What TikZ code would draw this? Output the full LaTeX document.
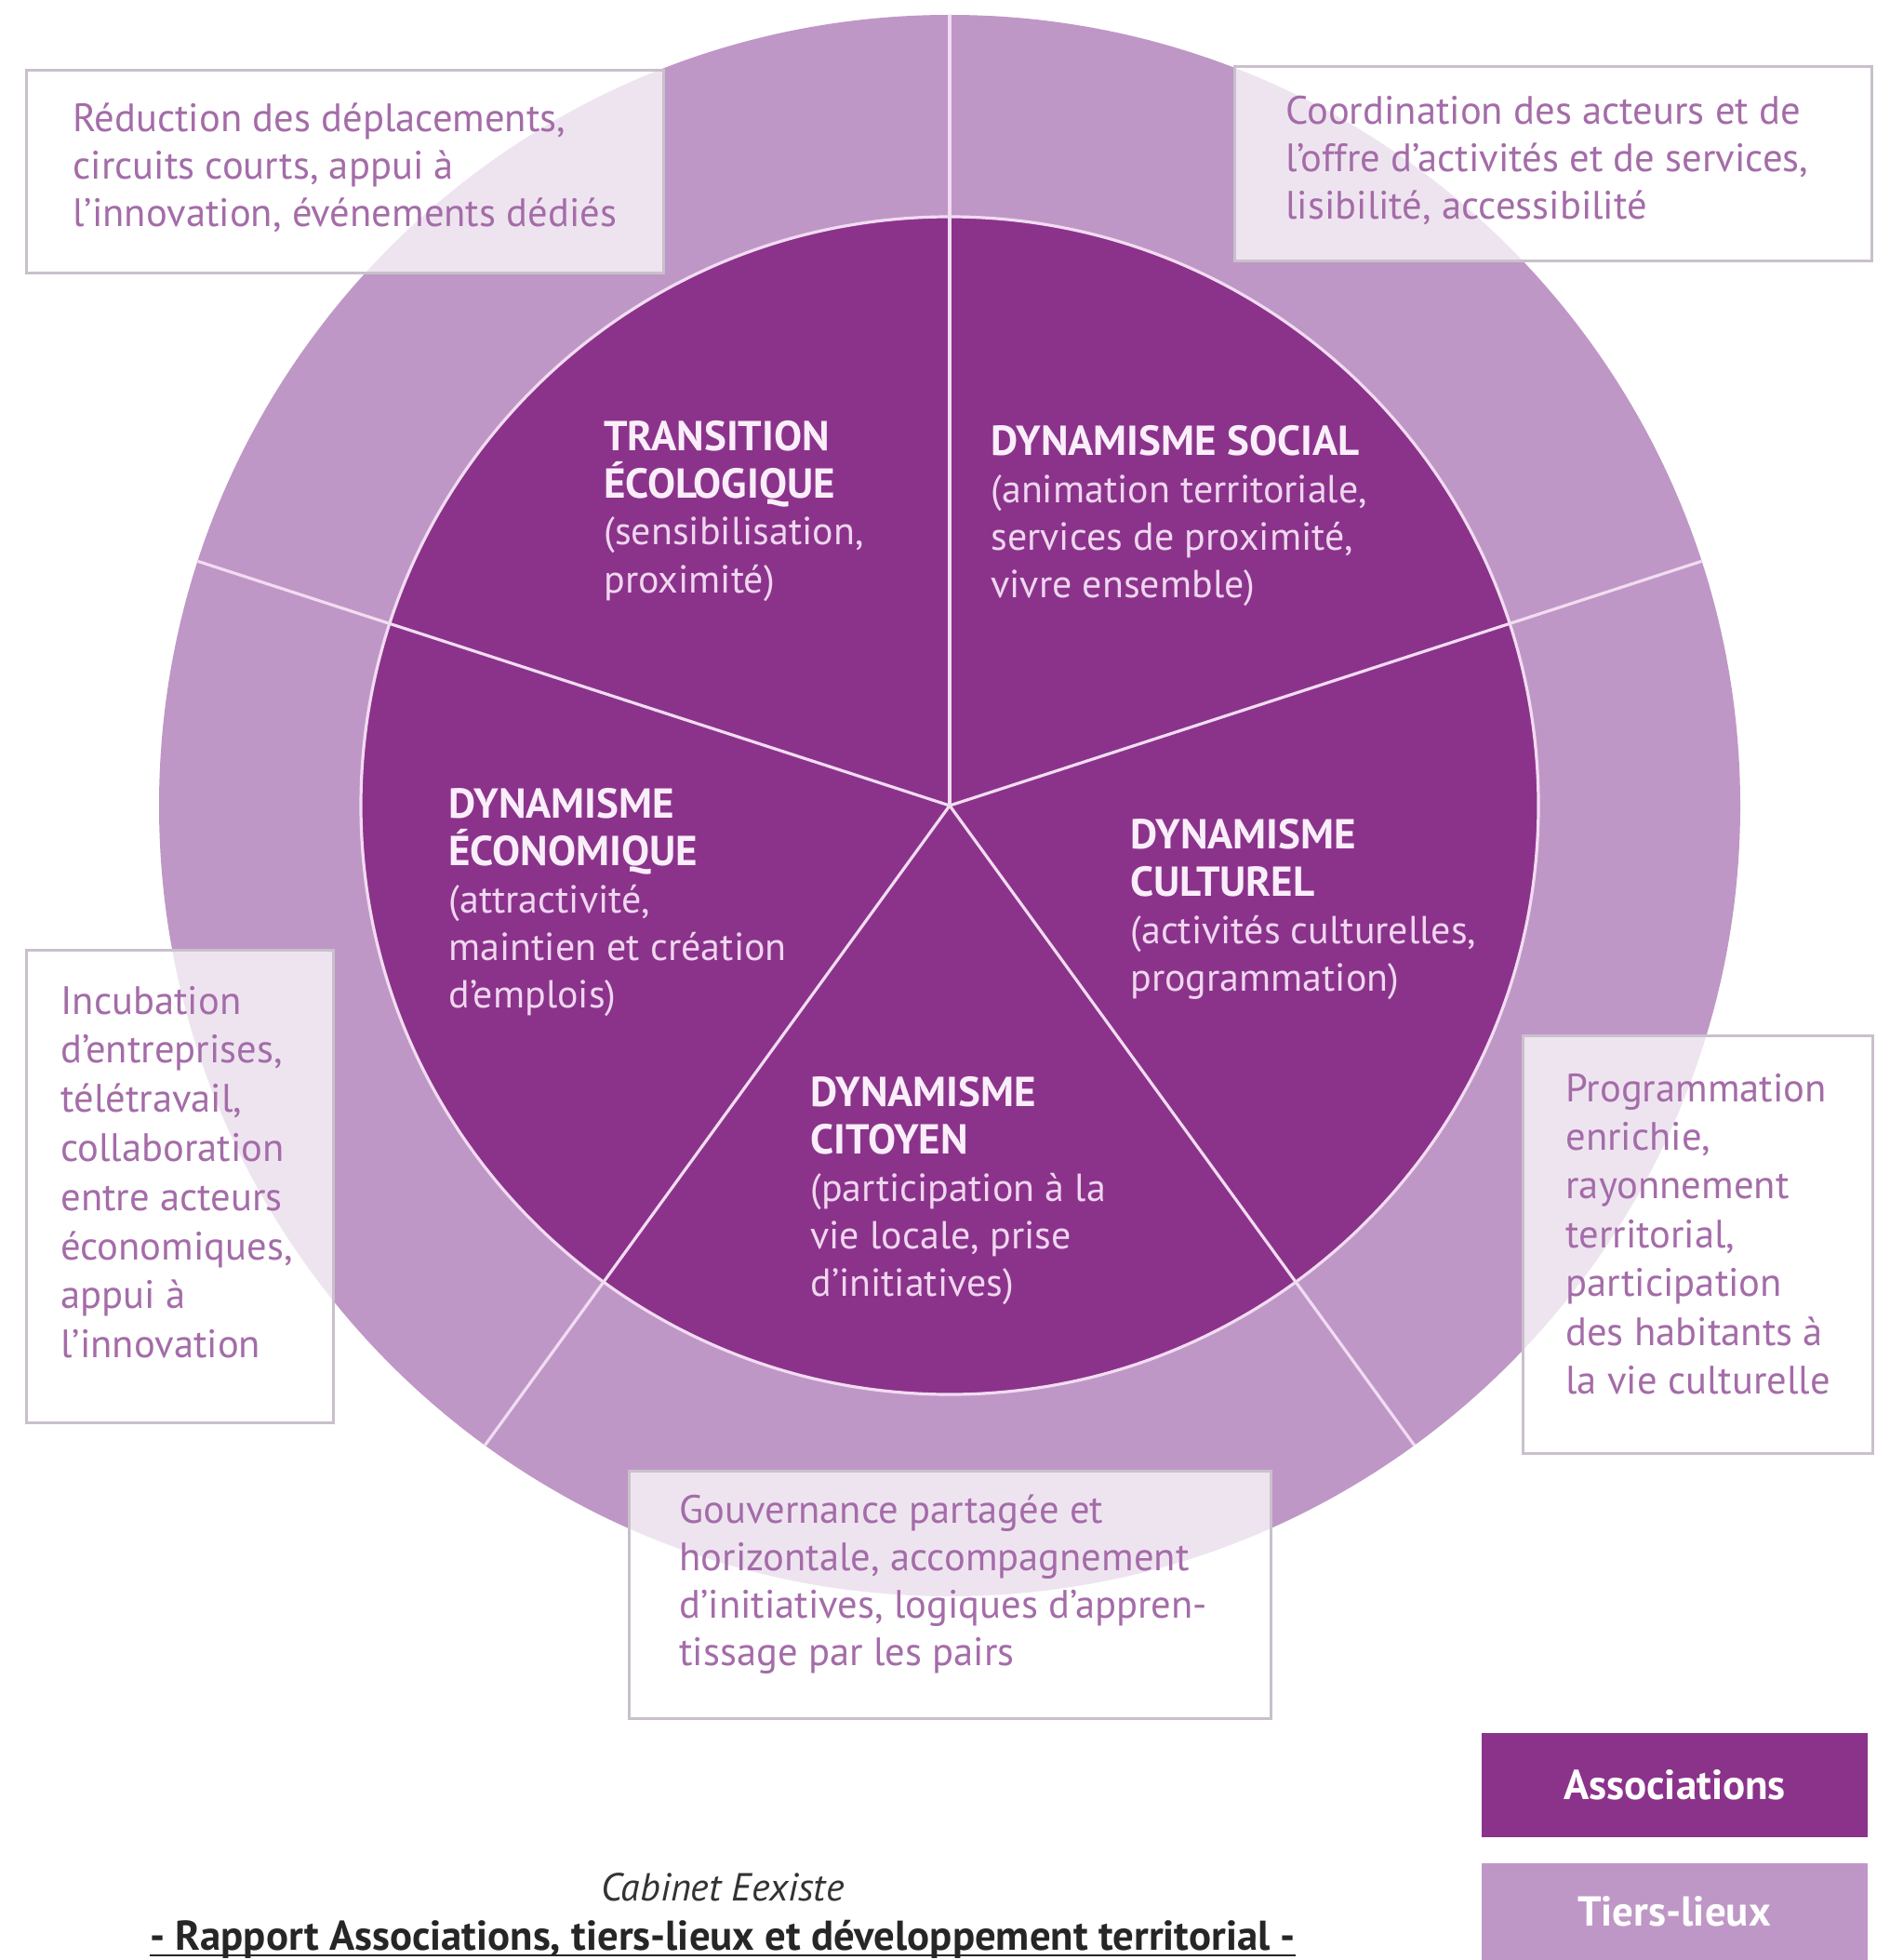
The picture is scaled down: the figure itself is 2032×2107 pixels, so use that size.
\documentclass[tikz,border=0pt]{standalone}
\usepackage{fontspec}
\setmainfont{PT Sans}
\usetikzlibrary{fit}
\definecolor{assoc}{HTML}{8B338B}
\definecolor{tiers}{HTML}{BF97C6}
\definecolor{boxtxt}{HTML}{A46CA8}
\definecolor{boxline}{HTML}{C9C0CC}
\definecolor{spoke}{HTML}{F2DCF2}
\definecolor{intitle}{HTML}{FAEEFA}
\definecolor{inbody}{HTML}{F0D6F0}
\newcommand\blk[1]{\begin{tabular}[t]{@{}l@{}}#1\end{tabular}}
\newcommand\ttl[1]{\smash{\fontsize{22.5}{25.5}\selectfont\bfseries\color{intitle}#1}}
\begin{document}
\begin{tikzpicture}[x=0.5pt,y=-0.5pt,
  tbox/.style={draw=boxline, line width=1.5pt, fill=white, fill opacity=0.75, inner sep=0pt},
  boxtext/.style={anchor=base west, inner sep=0pt, text=boxtxt, font=\fontsize{21.3}{25.5}\selectfont},
  intext/.style={anchor=base west, inner sep=0pt, text=inbody, font=\fontsize{21}{25.5}\selectfont},
  spokeline/.style={draw=spoke, line width=1.6pt},
  legend/.style={inner sep=0pt},
  legtext/.style={text=white, font=\bfseries\fontsize{22.5}{26}\selectfont}
]
\useasboundingbox (0,0) rectangle (2032,2107);
\fill[white] (0,0) rectangle (2032,2107);

% pie
\coordinate (c) at (1021,866);
\fill[tiers] (c) circle[radius=425pt];
\fill[assoc] (c) circle[radius=316.5pt];
\draw[spokeline] (c) circle[radius=316.5pt];
\foreach \a in {90,18,-54,-126,162} \draw[spokeline] (c) -- ++(\a:425pt);

% inner labels
\node[intext] (trans) at (649,484) {\blk{\ttl{TRANSITION}\\\ttl{ÉCOLOGIQUE}\\(sensibilisation,\\proximité)}};
\node[intext] (social) at (1065,489) {\blk{\ttl{DYNAMISME SOCIAL}\\(animation territoriale,\\services de proximité,\\vivre ensemble)}};
\node[intext] (eco) at (482,879) {\blk{\ttl{DYNAMISME}\\\ttl{ÉCONOMIQUE}\\(attractivité,\\maintien et création\\d’emplois)}};
\node[intext] (cult) at (1215,912) {\blk{\ttl{DYNAMISME}\\\ttl{CULTUREL}\\(activités culturelles,\\programmation)}};
\node[intext] (cit) at (871,1189) {\blk{\ttl{DYNAMISME}\\\ttl{CITOYEN}\\(participation à la\\vie locale, prise\\d’initiatives)}};

% outer boxes
\node[tbox, fit={(28,76)(713,294)}] (box1) {};
\node[boxtext] (t1) at (78,142) {\blk{Réduction des déplacements,\\circuits courts, appui à\\l’innovation, événements dédiés}};
\node[tbox, fit={(1327,72)(2012,281)}] (box2) {};
\node[boxtext] (t2) at (1382,134) {\blk{Coordination des acteurs et de\\l’offre d’activités et de services,\\lisibilité, accessibilité}};
\node[tbox, fit={(28,1021)(358,1529)}] (box3) {};
\node[boxtext, font=\fontsize{21.3}{26.4}\selectfont] (t3) at (65,1090) {\blk{Incubation\\d’entreprises,\\télétravail,\\collaboration\\entre acteurs\\économiques,\\appui à\\l’innovation}};
\node[tbox, fit={(1637,1113)(2013,1562)}] (box4) {};
\node[boxtext, font=\fontsize{21.3}{26.2}\selectfont] (t4) at (1683,1184) {\blk{Programmation\\enrichie,\\rayonnement\\territorial,\\participation\\des habitants à\\la vie culturelle}};
\node[tbox, fit={(676,1581)(1366,1847)}] (box5) {};
\node[boxtext] (t5) at (730,1637) {\blk{Gouvernance partagée et\\horizontale, accompagnement\\d’initiatives, logiques d’appren-\\tissage par les pairs}};

% legend
\node[legend, fill=assoc, fit={(1593,1863)(2008,1975)}] (lgA) {};
\node[legtext] (lgAt) at (lgA.center) {Associations};
\node[legend, fill=tiers, fit={(1593,2003)(2008,2107)}] (lgT) {};
\node[legtext, anchor=base] (lgTt) at (1800,2070) {Tiers-lieux};

% footer
\node[anchor=base, inner sep=0pt, text=black!80, font=\itshape\fontsize{21}{24}\selectfont] (cab) at (777,2043) {Cabinet Eexiste};
\node[anchor=base, inner sep=0pt, text=black!85, font=\bfseries\fontsize{22.4}{24}\selectfont] (rap) at (777,2096) {- Rapport Associations, tiers-lieux et développement territorial -};
\draw[black!85, line width=1.2pt] ([yshift=-3pt]rap.base west) -- ([yshift=-3pt]rap.base east);
\end{tikzpicture}
\end{document}
